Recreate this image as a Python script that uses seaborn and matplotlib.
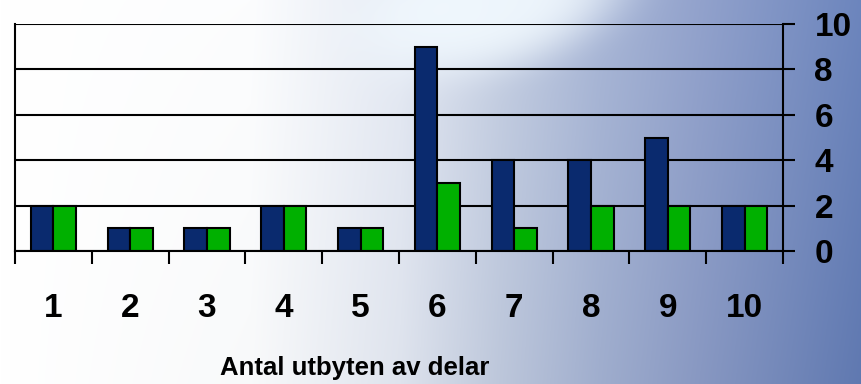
import numpy as np
import pandas as pd
import matplotlib
matplotlib.use("Agg")
import matplotlib.pyplot as plt
import seaborn as sns
from matplotlib.ticker import FixedLocator, NullFormatter, FixedFormatter

# ---- data ----
categories = ["1", "2", "3", "4", "5", "6", "7", "8", "9", "10"]
series_names = ["Serie 1", "Serie 2"]
serie1 = [2, 1, 1, 2, 1, 9, 4, 4, 5, 2]
serie2 = [2, 1, 1, 2, 1, 3, 1, 2, 2, 2]
y_ticks = [0, 2, 4, 6, 8, 10]
x_title = "Antal utbyten av delar"

df = pd.DataFrame({
    "cat": categories * 2,
    "value": serie1 + serie2,
    "series": [series_names[0]] * len(categories) + [series_names[1]] * len(categories),
})

sns.set_theme(style="white")
plt.rcParams["font.family"] = ["Liberation Sans", "DejaVu Sans"]

W, H, DPI = 862, 384, 100
fig = plt.figure(figsize=(W / DPI, H / DPI), dpi=DPI)

# ---- background (sky gradient) ----
bg = fig.add_axes([0, 0, 1, 1], zorder=-10)
xs = np.arange(W)
ys = np.arange(H)
stops_x = [0, 250, 400, 500, 600, 700, 862]
stops_c = np.array([
    [255, 255, 255], [252, 253, 254], [228, 233, 243], [196, 206, 226],
    [168, 182, 214], [146, 162, 204], [108, 133, 189]]) / 255.0
grad = np.stack([np.interp(xs, stops_x, stops_c[:, k]) for k in range(3)], axis=-1)
img = np.repeat(grad[None, :, :], H, axis=0)
dark = np.clip((ys[:, None] / H) * (xs[None, :] / W), 0, 1) * 0.05
img = np.clip(img - dark[..., None], 0, 1)
X, Y = np.meshgrid(xs, ys)
d = ((X - 490 + 0.6 * Y) / 125.0) ** 2 + (Y / 75.0) ** 2
cloud = np.exp(-d ** 2) * 0.9
cloud_col = np.array([0.95, 0.98, 1.0])
img = img * (1 - cloud[..., None]) + cloud_col * cloud[..., None]
bg.imshow(img, aspect="auto", extent=[0, W, H, 0])
bg.set_axis_off()

# ---- main axes ----
ax = fig.add_axes([15 / W, 1 - 251 / H, (783 - 15) / W, (251 - 24) / H])
ax.set_facecolor("none")

sns.barplot(data=df, x="cat", y="value", hue="series", order=categories,
            palette=["#0A2A6E", "#00B000"], width=0.59, dodge=True,
            edgecolor="black", linewidth=1.5, ax=ax, legend=False,
            errorbar=None, saturation=1)

ax.set_xlim(-0.5, len(categories) - 0.5)
ax.set_ylim(0, 10)
ax.set_xlabel("")
ax.set_ylabel("")

ax.yaxis.grid(True, color="black", linewidth=1.5)
ax.set_axisbelow(True)

for s in ["left", "right", "bottom"]:
    ax.spines[s].set_visible(True)
    ax.spines[s].set_color("black")
    ax.spines[s].set_linewidth(1.5)
ax.spines["top"].set_visible(False)

ax.yaxis.tick_right()
ax.set_yticks(y_ticks)
ax.set_yticklabels([str(v) for v in y_ticks])
ax.tick_params(axis="y", which="major", right=True, left=False, direction="out",
               length=8.6, width=1.5, color="black", pad=14,
               labelsize=24, labelcolor="black")
for t in ax.get_yticklabels():
    t.set_fontweight("bold")

n = len(categories)
ax.xaxis.set_major_locator(FixedLocator(np.arange(n + 1) - 0.5))
ax.xaxis.set_major_formatter(NullFormatter())
ax.xaxis.set_minor_locator(FixedLocator(np.arange(n)))
ax.xaxis.set_minor_formatter(FixedFormatter(categories))
ax.tick_params(axis="x", which="major", bottom=True, direction="out",
               length=9.4, width=1.5, color="black")
ax.tick_params(axis="x", which="minor", bottom=True, length=0, pad=30,
               labelsize=24, labelcolor="black")
for t in ax.xaxis.get_minorticklabels():
    t.set_fontweight("bold")

fig.text(355 / W, 1 - 368 / H, x_title, ha="center", va="center",
         fontsize=18.5, fontweight="bold", color="black")

fig.savefig("out.png", dpi=DPI)
